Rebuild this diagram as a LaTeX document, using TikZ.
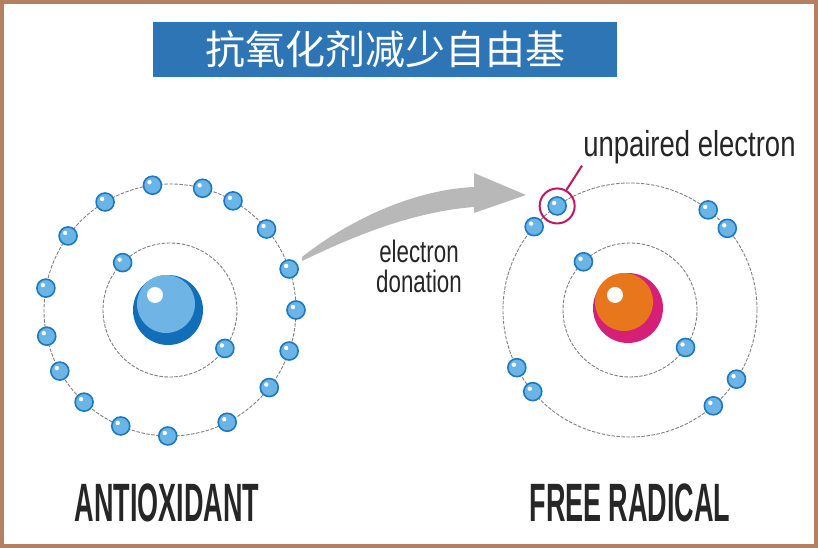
\documentclass[tikz,border=0pt]{standalone}
\usepackage{fontspec}
\newfontfamily\cjkfont{Noto Sans CJK SC}
\newfontfamily\narrowfont[FakeStretch=0.72]{Liberation Sans}
\newfontfamily\headfont[FakeStretch=0.5]{Liberation Sans}
\usetikzlibrary{calc}

\definecolor{titleblue}{RGB}{46,117,182}
\definecolor{frame}{RGB}{181,128,95}
\definecolor{elight}{RGB}{106,180,230}
\definecolor{edark}{RGB}{30,120,190}
\definecolor{nucblue}{RGB}{18,110,185}
\definecolor{nuclight}{RGB}{110,180,228}
\definecolor{nucpink}{RGB}{214,32,120}
\definecolor{nucorange}{RGB}{232,118,28}
\definecolor{ringred}{RGB}{192,24,92}
\definecolor{arrowgray}{RGB}{184,184,184}

\begin{document}
\begin{tikzpicture}[x=1pt, y=1pt,
    orbit/.style={gray, line width=0.9pt, dash pattern=on 3.5pt off 1.5pt},
    electron/.style={circle, minimum size=18pt, inner sep=0pt, fill=elight, draw=edark, line width=1.6pt},
    caption/.style={font=\headfont\bfseries\fontsize{54}{54}\selectfont, text=black!85}]
\useasboundingbox (0,0) rectangle (818,548);

% Frame
\draw[frame, line width=4pt] (2,2) rectangle (816,546);

% Title
\node[fill=titleblue, minimum width=464pt, minimum height=55pt, inner sep=0pt,
      text=white, font=\cjkfont\fontsize{40}{40}\selectfont] (title) at (385,498.5) {抗氧化剂减少自由基};

% Antioxidant atom
\begin{scope}[shift={(170,238)}]
  \draw[orbit] (0,0) circle (126);
  \draw[orbit] (0,0) circle (67);
  \fill[nucblue] (-2,0) circle (35);
  \fill[nuclight] (-4,6) circle (29);
  \fill[white] (-15,15) circle (8);
  \foreach \a in {98, 75, 60, 40, 19, 0, -19, -38, -63, -91, -113, -133, -151, -168, 170, 144, 121}
    \node[electron] at (\a:126) {};
  \foreach \a in {135, -35}
    \node[electron] at (\a:67) {};
  \foreach \a/\r in {98/126, 75/126, 60/126, 40/126, 19/126, 0/126, -19/126, -38/126, -63/126, -91/126,
                     -113/126, -133/126, -151/126, -168/126, 170/126, 144/126, 121/126, 135/67, -35/67}
    \fill[white] ($(\a:\r)+(-3,3)$) circle (2.2);
\end{scope}

% Free radical atom
\begin{scope}[shift={(630,238)}]
  \draw[orbit] (0,0) circle (127);
  \draw[orbit] (0,0) circle (67);
  \fill[nucpink] (-2,2) circle (35);
  \fill[nucorange] (-6,8) circle (29);
  \fill[white] (-15,15) circle (8);
  \foreach \a in {139, 52, 40, -153, -140, -33, -49}
    \node[electron] at (\a:127) {};
  \node[electron] (unpaired) at (125:127) {};
  \foreach \a in {134, -34}
    \node[electron] at (\a:67) {};
  \foreach \a/\r in {125/127, 139/127, 52/127, 40/127, -153/127, -140/127, -33/127, -49/127, 134/67, -34/67}
    \fill[white] ($(\a:\r)+(-3,3)$) circle (2.2);
\end{scope}

% Unpaired electron marker
\node[circle, draw=ringred, line width=2pt, minimum size=35pt, inner sep=0pt] (ring) at (unpaired) {};
\node[anchor=base west, inner sep=1pt, font=\narrowfont\fontsize{36}{36}\selectfont, text=black!85, xscale=1.06]
  (unplabel) at (582,391) {unpaired electron};
\draw[ringred, line width=2pt] (ring.60) -- (unplabel.south west);

% Donation arrow
\fill[arrowgray] (302,291) .. controls (345,325) and (410,358) .. (474,361)
  -- (474,375) -- (526,353) -- (474,335) -- (474,341)
  .. controls (410,336) and (350,310) .. (302,287) -- cycle;
\node[align=center, font=\narrowfont\fontsize{31}{30}\selectfont, text=black!85] (donation) at (419,282) {electron\\donation};

% Captions
\node[caption] (antiox) at (167,45) {ANTIOXIDANT};
\node[caption] (radical) at (630,45) {FREE RADICAL};
\end{tikzpicture}
\end{document}
